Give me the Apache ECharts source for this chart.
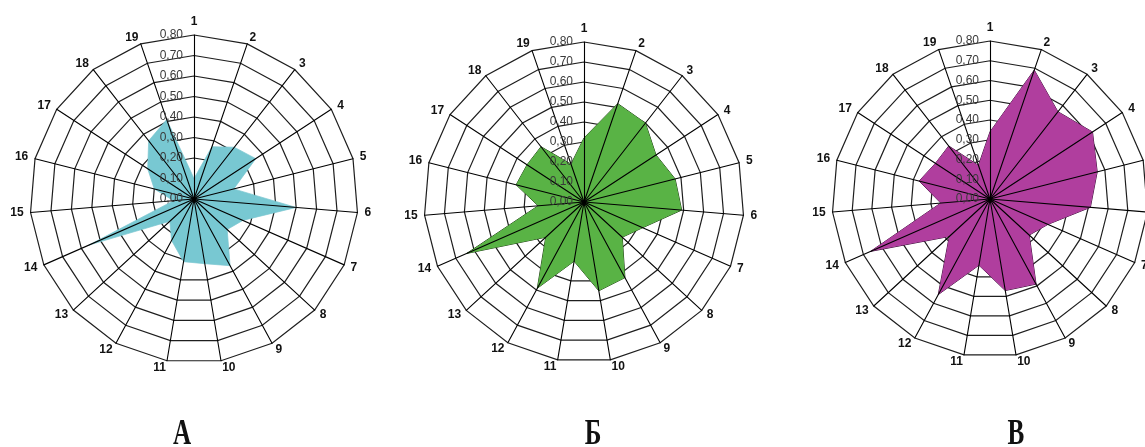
<!DOCTYPE html>
<html><head><meta charset="utf-8">
<script src="https://cdn.jsdelivr.net/npm/echarts@6/dist/echarts.min.js"></script>
<style>html,body{margin:0;padding:0;background:#fff}#c{width:1145px;height:447px}</style>
</head><body><div id="c"></div>
<script>
// Axis (category) names, clockwise from the top
const axisNames = ['1','2','3','4','5','6','7','8','9','10','11','12','13','14','15','16','17','18','19'];
// Radial tick labels
const tickLabels = ['0,00','0,10','0,20','0,30','0,40','0,50','0,60','0,70','0,80'];
// Values per axis 1..19
const valuesA = [0.10, 0.27, 0.32, 0.36, 0.20, 0.50, 0.26, 0.22, 0.37, 0.32, 0.31, 0.23, 0.16, 0.56, 0.10, 0.20, 0.27, 0.36, 0.41];
const valuesB = [0.32, 0.52, 0.50, 0.43, 0.47, 0.49, 0.32, 0.26, 0.43, 0.45, 0.30, 0.49, 0.26, 0.64, 0.23, 0.35, 0.34, 0.35, 0.20];
const valuesC = [0.34, 0.69, 0.56, 0.62, 0.56, 0.51, 0.32, 0.27, 0.49, 0.47, 0.34, 0.55, 0.28, 0.66, 0.25, 0.37, 0.33, 0.34, 0.18];
const panelLabels = ['А', 'Б', 'В'];

const AXIS_MAX = 0.8;
const panels = [
  { center: [194, 199], radius: 164, values: valuesA, fill: '#78c8d2', line: '#6bbcc8', lw: 0.6, labelX: 182 },
  { center: [584, 202], radius: 160, values: valuesB, fill: '#59b345', line: '#1d3a12', lw: 1, labelX: 593 },
  { center: [990, 199], radius: 158, values: valuesC, fill: '#b03e9e', line: '#3a0f38', lw: 1, labelX: 1016 }
];

// ECharts places indicators counter-clockwise; reorder to get clockwise numbering
const order = [0];
for (let i = axisNames.length - 1; i >= 1; i--) order.push(i);
const reorder = arr => order.map(i => arr[i]);

function indicators(withLabels) {
  return order.map(i => {
    const ind = { name: axisNames[i], min: 0, max: AXIS_MAX };
    if (withLabels && i === 0) {
      ind.axisLabel = {
        show: true,
        margin: 11,
        color: '#3a3a3a',
        fontSize: 12,
        fontFamily: 'Liberation Sans, Arial, sans-serif',
        formatter: v => tickLabels[Math.round(v * 10)]
      };
    }
    return ind;
  });
}

const radars = [];
const series = [];
const graphics = [];
panels.forEach((p, k) => {
  // base radar: grid rings
  radars.push({
    center: p.center, radius: p.radius, shape: 'polygon', splitNumber: 8,
    indicator: indicators(false), z: 0,
    axisName: { show: false },
    axisLine: { show: false },
    axisTick: { show: false },
    axisLabel: { show: false },
    splitLine: { lineStyle: { color: '#1e1e1e', width: 1.2 } },
    splitArea: { show: false }
  });
  // overlay radar: radial axes, names and tick labels drawn over the fill
  radars.push({
    center: p.center, radius: p.radius, shape: 'polygon', splitNumber: 8,
    indicator: indicators(true), z: 5, nameGap: 7,
    axisName: { show: true, color: '#111', fontWeight: 'bold', fontSize: 12, fontFamily: 'Liberation Sans, Arial, sans-serif' },
    axisLine: { show: true, lineStyle: { color: '#000', width: 1.1 } },
    axisTick: { show: false },
    axisLabel: { show: false },
    splitLine: { show: false },
    splitArea: { show: false }
  });
  series.push({
    type: 'radar', radarIndex: k * 2, symbol: 'none', z: 2,
    lineStyle: { color: p.line, width: p.lw },
    areaStyle: { color: p.fill, opacity: 1 },
    data: [{ value: reorder(p.values) }]
  });
  graphics.push({
    type: 'text', x: p.labelX, y: 435, scaleX: 0.72,
    style: { text: panelLabels[k], font: 'bold 35px "Liberation Serif", "Times New Roman", serif', fill: '#111', textAlign: 'center', textVerticalAlign: 'middle' }
  });
});

const chart = echarts.init(document.getElementById('c'), null, { renderer: 'canvas' });
chart.setOption({
  backgroundColor: '#fff',
  animation: false,
  radar: radars,
  series: series,
  graphic: graphics
});
</script>
</body></html>
